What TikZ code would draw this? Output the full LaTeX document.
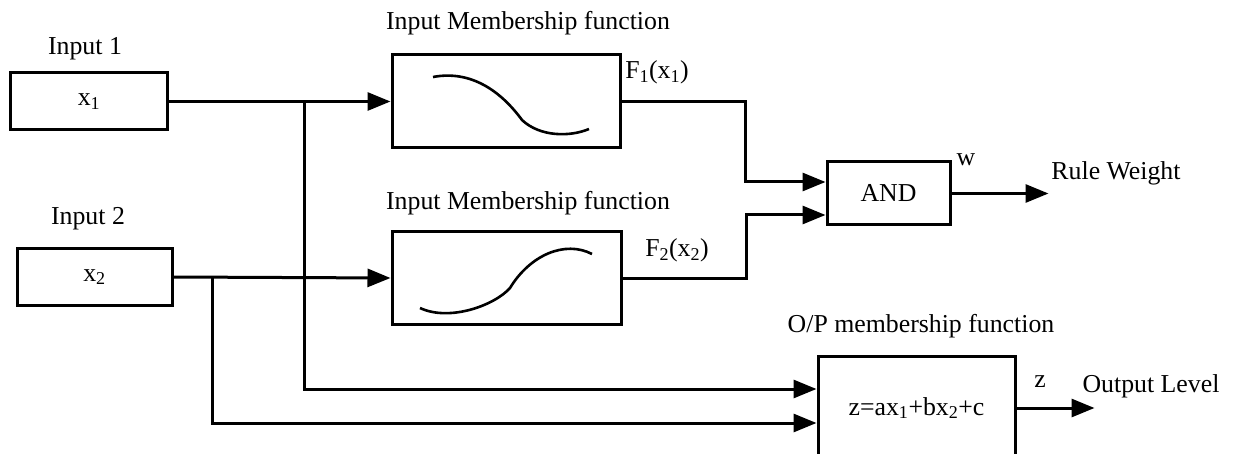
\documentclass[tikz,border=0pt]{standalone}
\usepackage{fontspec}
\setmainfont{Liberation Serif}
\usetikzlibrary{arrows.meta}
\begin{document}
\begin{tikzpicture}[x=1pt,y=-1pt,line width=3pt,
  every node/.style={font=\fontsize{25.8}{30}\selectfont},
  blk/.style={draw,rectangle,inner sep=0pt},
  lbl/.style={anchor=base,inner sep=0pt},
  arr/.style={-{Triangle[length=23pt,width=18pt]}}]
\useasboundingbox (0,0) rectangle (1233,454);
\clip (0,0) rectangle (1233,454);
% boxes
\node[blk,minimum width=157pt,minimum height=57pt] (in1) at (89,101.5) {x\textsubscript{1}};
\node[blk,minimum width=155pt,minimum height=57pt] (in2) at (94.5,277) {x\textsubscript{2}};
\node[blk,minimum width=228pt,minimum height=93pt] (mf1) at (506,101.5) {};
\node[blk,minimum width=229pt,minimum height=93pt] (mf2) at (506.5,278) {};
\node[blk,minimum width=123pt,minimum height=63pt] (and) at (888.5,193.5) {AND};
\node[blk,minimum width=197pt,minimum height=104pt] (op) at (916.5,408) {z=ax\textsubscript{1}+bx\textsubscript{2}+c};
% curves
\draw[line width=2.6pt] (433,77) .. controls (470,70) and (500,90) .. (522,120)
  .. controls (540,137) and (570,137) .. (589,129);
\draw[line width=2.6pt] (420,308) .. controls (450,322) and (495,305) .. (510,288)
  .. controls (530,255) and (565,240) .. (592,254);
% labels
\node[lbl] (t1) at (85,55) {Input 1};
\node[lbl] (t2) at (88,225) {Input 2};
\node[lbl] (t3) at (528,30) {Input Membership function};
\node[lbl] (t4) at (528,210) {Input Membership function};
\node[lbl] (t5) at (657,79) {F\textsubscript{1}(x\textsubscript{1})};
\node[lbl] (t6) at (677,257) {F\textsubscript{2}(x\textsubscript{2})};
\node[lbl] (t7) at (921,332) {O/P membership function};
\node[lbl] (t8) at (966,166) {w};
\node[lbl] (t9) at (1116,180) {Rule Weight};
\node[lbl] (t10) at (1040,387) {z};
\node[lbl] (t11) at (1151,392) {Output Level};
% connectors
\coordinate (b1) at (304,101.5);
\coordinate (b2) at (212,277);
\draw[arr] (in1.east) -- (mf1.west);
\draw[arr] (in2.east) -- (mf2.west);
\draw[arr] (b1) |- ([yshift=19pt]op.west);
\draw[arr] (b2) |- ([yshift=-15pt]op.west);
\draw[arr] (mf1.east) -- ++(124,0) |- ([yshift=11.5pt]and.west);
\draw[arr] (mf2.east) -- ++(124,0) |- ([yshift=-21.5pt]and.west);
\draw[arr] (and.east) -- ++(97,0) coordinate (w);
\draw[arr] (op.east) -- ++(78,0) coordinate (z);
\end{tikzpicture}
\end{document}
